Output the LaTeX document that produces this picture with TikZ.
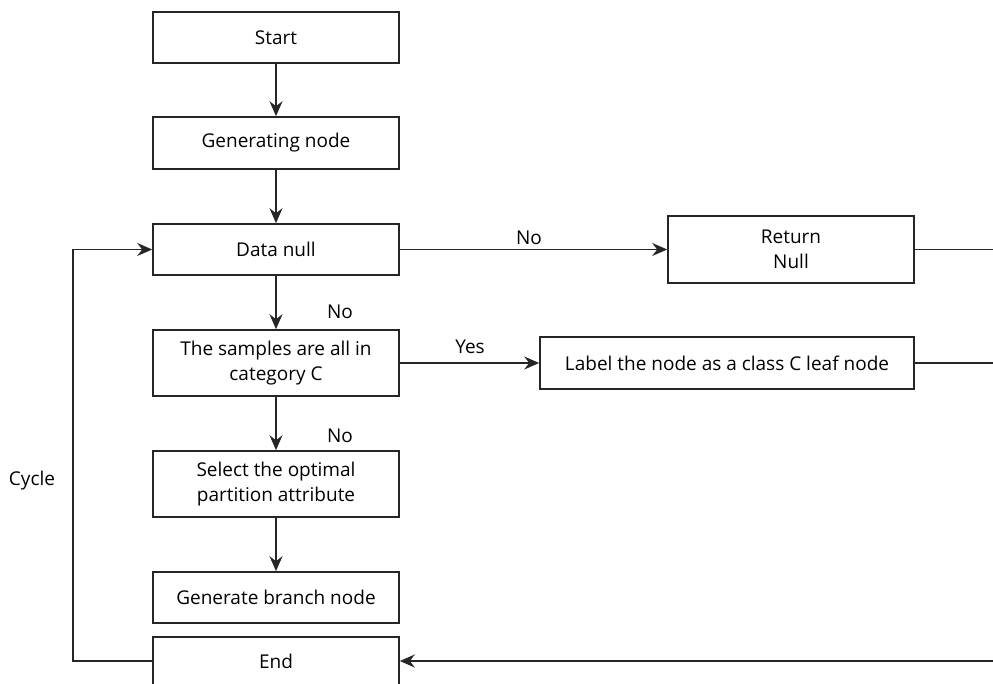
\documentclass[tikz,border=0pt]{standalone}
\usepackage{fontspec}
\setmainfont{Open Sans}
\usetikzlibrary{arrows.meta}
\begin{document}
\begin{tikzpicture}[x=1pt,y=-1pt,
  box/.style={draw=black!85, line width=1.6pt, minimum width=246pt, align=center,
    inner sep=0pt, font=\fontsize{19}{25}\selectfont},
  flow/.style={draw=black!85, line width=1.6pt, -{Stealth[length=15pt,width=13pt,inset=5pt]}},
  plain/.style={draw=black!85, line width=1.6pt},
  lbl/.style={font=\fontsize{19}{22}\selectfont, inner sep=0pt}]
\useasboundingbox (0,0) rectangle (993,684);
\clip (0,0) rectangle (993,684);
% main column
\node[box, minimum height=51pt] (start) at (276,37.5) {Start};
\node[box, minimum height=52pt] (gen) at (276,143) {Generating node};
\node[box, minimum height=51pt] (dnull) at (276,249.5) {Data null};
\node[box, minimum height=66pt] (samp) at (276,363) {The samples are all in\\category C};
\node[box, minimum height=66pt] (sel) at (276,484) {Select the optimal\\partition attribute};
\node[box, minimum height=51pt] (gbr) at (276,597.5) {Generate branch node};
\node[box, minimum height=80pt, anchor=north] (fin) at (276,636) {};
\node[lbl] (fintext) at (276,661) {End};
% side boxes
\node[box, minimum width=246pt, minimum height=67pt] (ret) at (791,249.5) {Return\\Null};
\node[box, minimum width=374pt, minimum height=52pt] (leaf) at (727,363) {Label the node as a class C leaf node};
% loose ends at the right border
\coordinate (rA) at (1000,249.5);
\coordinate (rB) at (1000,363);
\coordinate (rC) at (1000,661);
\coordinate (cyc) at (73,661);
% connectors
\draw[flow] (start) -- (gen);
\draw[flow] (gen) -- (dnull);
\draw[flow] (dnull) -- (samp);
\draw[flow] (samp) -- (sel);
\draw[flow] (sel) -- (gbr);
\draw[flow] (dnull) -- (ret);
\draw[flow] (samp) -- (leaf);
\draw[plain] (ret) -- (rA);
\draw[plain] (leaf) -- (rB);
\draw[flow] (rC) -- (fin.east |- rC);
\draw[flow] (fin.west |- cyc) -- (cyc) -- (cyc |- dnull.west) -- (dnull.west);
% labels
\node[lbl] (noA) at (529,238) {No};
\node[lbl] (noB) at (340,312) {No};
\node[lbl] (yes) at (470,347) {Yes};
\node[lbl] (noC) at (340,436) {No};
\node[lbl] (cycle) at (32,481) {Cycle};
\end{tikzpicture}
\end{document}
